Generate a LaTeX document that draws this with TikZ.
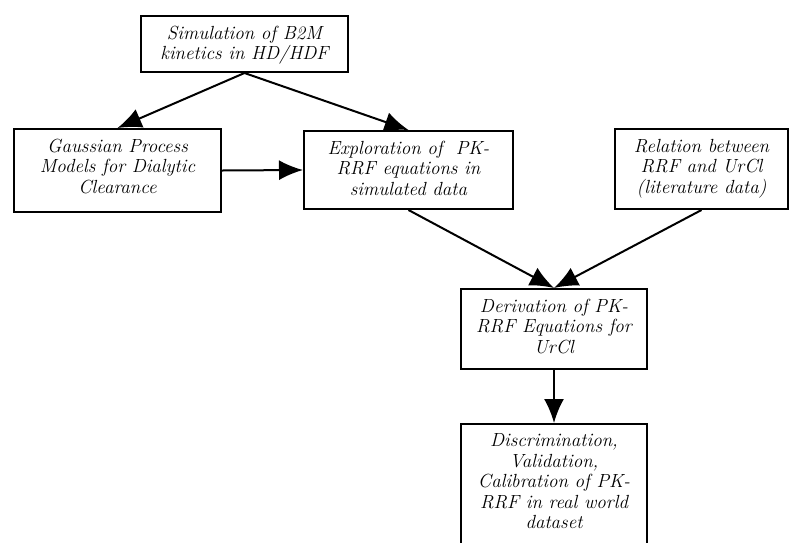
\documentclass[tikz,border=0pt]{standalone}
\usepackage{tikz}
\usetikzlibrary{arrows.meta}
\newcommand{\btext}[3]{\parbox[c][#1][t]{#2}{\centering\itshape #3}}

\begin{document}
\begin{tikzpicture}[x=1pt, y=-1pt, font=\fontsize{19}{20.5}\selectfont,
    bnode/.style={draw, line width=2pt, rectangle, inner xsep=4pt, inner ysep=10pt},
    arr/.style={line width=2pt, -{Latex[length=24pt, width=20pt]}}]
    \useasboundingbox (0,0) rectangle (792,542);
    \node[bnode] (sim) at (244.5,44) {\btext{36pt}{199pt}{Simulation of B2M\\kinetics in HD/HDF}};
    \node[bnode] (gpm) at (117.5,170.5) {\btext{63pt}{199pt}{Gaussian Process\\Models for Dialytic\\Clearance}};
    \node[bnode] (expl) at (408.5,170) {\btext{58pt}{201pt}{Exploration of~ PK-\\RRF equations in\\simulated data}};
    \node[bnode] (rel) at (701.5,169) {\btext{60pt}{165pt}{Relation between\\RRF and UrCl\\(literature data)}};
    \node[bnode] (deriv) at (554,329) {\btext{60pt}{178pt}{Derivation of PK-\\RRF Equations for\\UrCl}};
    \node[bnode] (discr) at (554,491.5) {\btext{115pt}{178pt}{Discrimination,\\Validation,\\Calibration of PK-\\RRF in real world\\dataset}};

    \draw[arr] (sim.south) -- (gpm.north);
    \draw[arr] (sim.south) -- (expl.north);
    \draw[arr] (gpm.east) -- (expl.west);
    \draw[arr] (expl.south) -- (deriv.north);
    \draw[arr] (rel.south) -- (deriv.north);
    \draw[arr] (deriv.south) -- (discr.north);
\end{tikzpicture}
\end{document}
